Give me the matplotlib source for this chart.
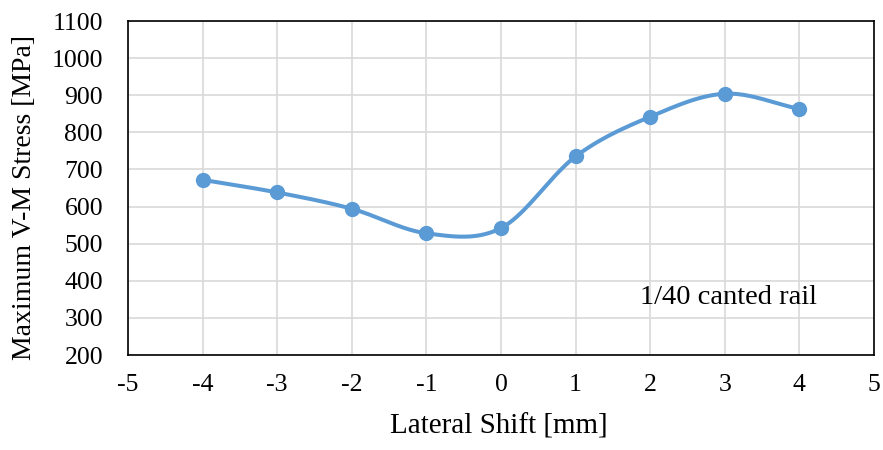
import matplotlib
matplotlib.use('Agg')
import matplotlib.pyplot as plt
import numpy as np

shift_mm = [-4, -3, -2, -1, 0, 1, 2, 3, 4]
stress_mpa = [672, 638, 594, 528, 542, 735, 842, 904, 863]
x_ticks = [-5, -4, -3, -2, -1, 0, 1, 2, 3, 4, 5]
y_ticks = [200, 300, 400, 500, 600, 700, 800, 900, 1000, 1100]


def smooth_curve(x, y, n=40):
    # Catmull-Rom style smoothing, like Excel's "smoothed line"
    x = np.asarray(x, float)
    y = np.asarray(y, float)
    px = np.concatenate(([2 * x[0] - x[1]], x, [2 * x[-1] - x[-2]]))
    py = np.concatenate(([2 * y[0] - y[1]], y, [2 * y[-1] - y[-2]]))
    xs, ys = [], []
    t = np.linspace(0, 1, n)
    for i in range(1, len(px) - 2):
        for p, out in ((px, xs), (py, ys)):
            p0, p1, p2, p3 = p[i - 1], p[i], p[i + 1], p[i + 2]
            out.extend(0.5 * ((2 * p1) + (-p0 + p2) * t
                              + (2 * p0 - 5 * p1 + 4 * p2 - p3) * t ** 2
                              + (-p0 + 3 * p1 - 3 * p2 + p3) * t ** 3))
    return xs, ys


plt.rcParams['font.family'] = ['Liberation Serif', 'DejaVu Serif']

fig = plt.figure(figsize=(8.83, 4.5), dpi=100)
ax = fig.add_axes([128 / 883, 1 - 355 / 450, (874 - 128) / 883, (355 - 21) / 450])

sx, sy = smooth_curve(shift_mm, stress_mpa)
ax.plot(sx, sy, color='#5B9BD5', lw=2.9, zorder=3)
ax.plot(shift_mm, stress_mpa, 'o', color='#5B9BD5', ms=10, zorder=4)

ax.set_xlim(-5, 5)
ax.set_ylim(200, 1100)
ax.set_xticks(x_ticks)
ax.set_yticks(y_ticks)
ax.set_xticklabels([str(v) for v in x_ticks])
ax.grid(True, color='#d9d9d9', lw=1.2)
ax.set_axisbelow(True)
ax.tick_params(length=0, labelsize=18.5)
ax.tick_params(axis='x', pad=14)
ax.tick_params(axis='y', pad=18)
for s in ax.spines.values():
    s.set_color('black')
    s.set_linewidth(1.2)

fig.text(499 / 883, 1 - 427 / 450, 'Lateral Shift [mm]', fontsize=21,
         ha='center', va='center')
fig.text(25 / 883, 1 - 197 / 450, 'Maximum V-M Stress [MPa]', fontsize=20,
         ha='center', va='center', rotation=90)
ax.text(1.86, 354, '1/40 canted rail', fontsize=20.5, ha='left', va='center')

fig.savefig('out.png', dpi=100)
